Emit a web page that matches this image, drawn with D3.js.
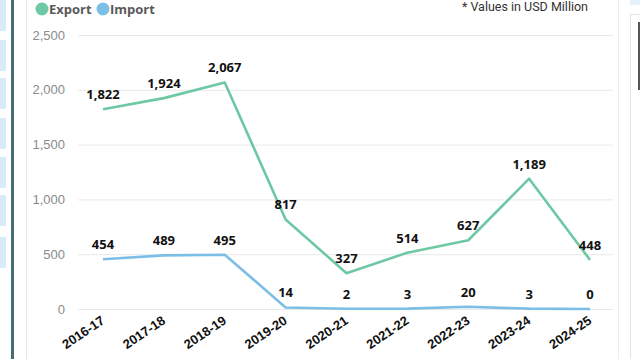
<!DOCTYPE html>
<html>
<head>
<meta charset="utf-8">
<script src="https://cdn.jsdelivr.net/npm/d3@7"></script>
<style>
  body { margin: 0; background: #fff; }
  svg { display: block; font-family: "Open Sans", sans-serif; }
</style>
</head>
<body>
<script>
// chart data
var years = ["2016-17", "2017-18", "2018-19", "2019-20", "2020-21",
             "2021-22", "2022-23", "2023-24", "2024-25"];
var exportVals = [1822, 1924, 2067, 817, 327, 514, 627, 1189, 448];
var importVals = [454, 489, 495, 14, 2, 3, 20, 3, 0];
var yTicks = [0, 500, 1000, 1500, 2000, 2500];

var width = 640, height = 359;
var exportColor = "#6fc8a4", importColor = "#7cbfe6";

var svg = d3.select("body").append("svg")
    .attr("width", width)
    .attr("height", height);

// surrounding report bits
var sideBoxes = [0, 40, 78, 118, 157, 195, 237];
svg.selectAll("rect.side")
    .data(sideBoxes)
  .enter().append("rect")
    .attr("x", 0).attr("y", function(d) { return d; })
    .attr("width", 6).attr("height", 31)
    .style("fill", "#d7ecf6");
svg.append("rect").attr("x", 11).attr("y", 0).attr("width", 3).attr("height", height)
    .style("fill", "#456d79");
svg.append("line").attr("x1", 26.5).attr("x2", 26.5).attr("y1", 0).attr("y2", height)
    .style("stroke", "#e8e8e8");
svg.append("line").attr("x1", 618.5).attr("x2", 618.5).attr("y1", 0).attr("y2", height)
    .style("stroke", "#ececec");
svg.append("rect").attr("x", 630).attr("y", 0).attr("width", 10).attr("height", 5)
    .style("fill", "#e3f1f9");
svg.append("rect").attr("x", 630.5).attr("y", 14.5).attr("width", 12).attr("height", 350)
    .style("fill", "none").style("stroke", "#e2e2e2");
svg.append("rect").attr("x", 638).attr("y", 22).attr("width", 2).attr("height", 68)
    .style("fill", "#555");

// scales
var x = d3.scalePoint().domain(years).range([103, 590]);
var y = d3.scaleLinear().domain([0, 2500]).range([309, 35]);

// gridlines + y labels
var yAxis = d3.axisLeft(y).tickValues(yTicks).tickSize(-535).tickPadding(13)
    .tickFormat(d3.format(","));
var gy = svg.append("g").attr("transform", "translate(78,0)").call(yAxis);
gy.select(".domain").remove();
gy.selectAll(".tick line").style("stroke", "#e9e9e9");
gy.selectAll(".tick text").style("fill", "#8a8a8a").style("font-size", "13px");

// x labels
var xAxis = d3.axisBottom(x).tickSize(0).tickPadding(0);
var gx = svg.append("g").attr("transform", "translate(0,318)").call(xAxis);
gx.select(".domain").remove();
gx.selectAll(".tick text")
    .attr("text-anchor", "end")
    .attr("dx", -1).attr("dy", 5)
    .attr("transform", "rotate(-34)")
    .style("font-size", "13px").style("font-weight", "bold").style("fill", "#111");

var line = d3.line()
    .x(function(d, i) { return x(years[i]); })
    .y(function(d) { return y(d); });

function drawSeries(vals, color) {
  svg.append("path")
      .datum(vals)
      .attr("d", line)
      .style("fill", "none")
      .style("stroke", color)
      .style("stroke-width", 2.6)
      .style("stroke-linejoin", "round");

  svg.append("g").selectAll("text")
      .data(vals)
    .enter().append("text")
      .attr("x", function(d, i) { return x(years[i]); })
      .attr("y", function(d) { return y(d) - 10; })
      .attr("text-anchor", "middle")
      .style("font-size", "13px").style("font-weight", "bold").style("fill", "#111")
      .text(function(d) { return d3.format(",")(d); });
}

drawSeries(importVals, importColor);
drawSeries(exportVals, exportColor);

// legend
var legend = [["Export", exportColor, 42], ["Import", importColor, 103]];
legend.forEach(function(l) {
  svg.append("circle").attr("cx", l[2]).attr("cy", 9).attr("r", 6.5).style("fill", l[1]);
  svg.append("text").attr("x", l[2] + 7).attr("y", 14)
      .style("font-size", "13px").style("font-weight", "bold").style("fill", "#595959")
      .text(l[0]);
});

svg.append("text").attr("x", 588).attr("y", 11).attr("text-anchor", "end")
    .style("font-family", "Roboto, sans-serif").style("font-size", "12.5px").style("fill", "#333")
    .text("* Values in USD Million");
</script>
</body>
</html>
